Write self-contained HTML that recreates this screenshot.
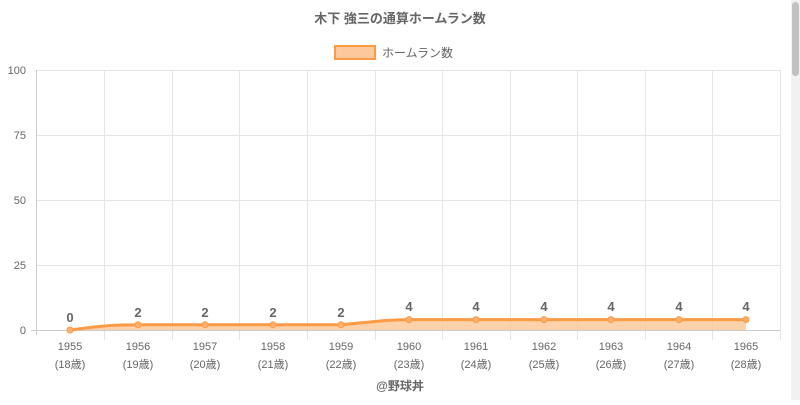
<!DOCTYPE html>
<html><head><meta charset="utf-8"><style>
body{margin:0;width:800px;height:400px;background:#fff;overflow:hidden;font-family:"Liberation Sans","Noto Sans CJK JP",sans-serif;}
</style></head><body>
<svg width="800" height="400" xmlns="http://www.w3.org/2000/svg" font-family="Liberation Sans, Noto Sans CJK JP, sans-serif">
<rect x="791" y="0" width="9" height="400" fill="#f1f1f1"/>
<rect x="792" y="2" width="7" height="74" rx="3.5" fill="#c1c1c1"/>
<text x="400" y="23" text-anchor="middle" font-size="13" font-weight="bold" fill="#666">木下 強三の通算ホームラン数</text>
<rect x="335" y="46" width="40" height="13" fill="#fdc99a" stroke="#fd9a45" stroke-width="2"/>
<text x="382" y="57" font-size="12" fill="#666">ホームラン数</text>
<g stroke="#e5e5e5" stroke-width="1">
<line x1="37" y1="70.5" x2="780" y2="70.5"/><line x1="37" y1="135.5" x2="780" y2="135.5"/>
<line x1="37" y1="200.5" x2="780" y2="200.5"/><line x1="37" y1="265.5" x2="780" y2="265.5"/>
<line x1="104.5" y1="70" x2="104.5" y2="340"/><line x1="172.5" y1="70" x2="172.5" y2="340"/>
<line x1="239.5" y1="70" x2="239.5" y2="340"/><line x1="307.5" y1="70" x2="307.5" y2="340"/>
<line x1="375.5" y1="70" x2="375.5" y2="340"/><line x1="442.5" y1="70" x2="442.5" y2="340"/>
<line x1="510.5" y1="70" x2="510.5" y2="340"/><line x1="577.5" y1="70" x2="577.5" y2="340"/>
<line x1="645.5" y1="70" x2="645.5" y2="340"/><line x1="712.5" y1="70" x2="712.5" y2="340"/>
<line x1="780.5" y1="70" x2="780.5" y2="340"/>
</g>
<line x1="36.5" y1="70" x2="36.5" y2="335" stroke="#ccc"/>
<line x1="31" y1="330.5" x2="780" y2="330.5" stroke="#ccc"/>
<g font-size="11" fill="#666" text-anchor="end">
<text x="26" y="74">100</text><text x="26" y="139">75</text><text x="26" y="204">50</text><text x="26" y="269">25</text><text x="26" y="334">0</text>
</g>
<path d="M70,330 C100,326 110,325 138,324.8 L341,324.8 C380,321 390,319.6 409,319.6 L746,319.6 L746,330 Z" fill="#fdc99a" opacity="0.85"/>
<path d="M70,330 C100,326 110,325 138,324.8 L341,324.8 C380,321 390,319.6 409,319.6 L746,319.6" fill="none" stroke="#fd9a45" stroke-width="3"/>
<g fill="#fdb070" stroke="#fd9a45">
<circle cx="70" cy="330" r="3"/><circle cx="138" cy="324.8" r="3"/><circle cx="205" cy="324.8" r="3"/><circle cx="273" cy="324.8" r="3"/><circle cx="341" cy="324.8" r="3"/><circle cx="409" cy="319.6" r="3"/><circle cx="476" cy="319.6" r="3"/><circle cx="544" cy="319.6" r="3"/><circle cx="611" cy="319.6" r="3"/><circle cx="679" cy="319.6" r="3"/><circle cx="746" cy="319.6" r="3"/>
</g>
<g font-size="13" font-weight="bold" fill="#666" text-anchor="middle">
<text x="70" y="322">0</text><text x="138" y="317">2</text><text x="205" y="317">2</text><text x="273" y="317">2</text><text x="341" y="317">2</text><text x="409" y="311">4</text><text x="476" y="311">4</text><text x="544" y="311">4</text><text x="611" y="311">4</text><text x="679" y="311">4</text><text x="746" y="311">4</text>
</g>
<g font-size="11" fill="#666" text-anchor="middle">
<text x="70" y="350">1955</text><text x="70" y="368">(18歳)</text>
<text x="138" y="350">1956</text><text x="138" y="368">(19歳)</text>
<text x="205" y="350">1957</text><text x="205" y="368">(20歳)</text>
<text x="273" y="350">1958</text><text x="273" y="368">(21歳)</text>
<text x="341" y="350">1959</text><text x="341" y="368">(22歳)</text>
<text x="409" y="350">1960</text><text x="409" y="368">(23歳)</text>
<text x="476" y="350">1961</text><text x="476" y="368">(24歳)</text>
<text x="544" y="350">1962</text><text x="544" y="368">(25歳)</text>
<text x="611" y="350">1963</text><text x="611" y="368">(26歳)</text>
<text x="679" y="350">1964</text><text x="679" y="368">(27歳)</text>
<text x="746" y="350">1965</text><text x="746" y="368">(28歳)</text>
</g>
<text x="400" y="390" text-anchor="middle" font-size="12" font-weight="bold" fill="#666">@野球丼</text>
</svg>
</body></html>
